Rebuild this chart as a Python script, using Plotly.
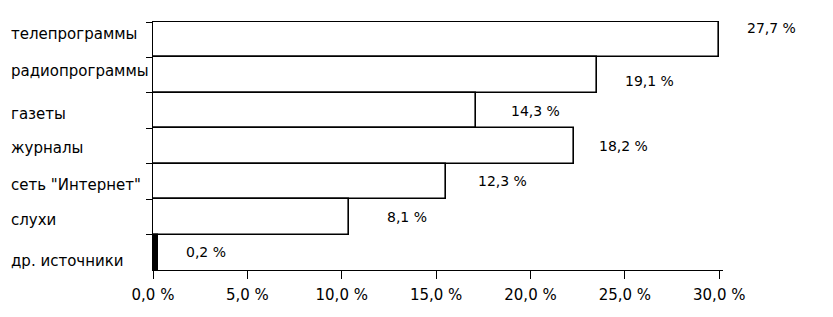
import plotly.graph_objects as go

categories = ["телепрограммы", "радиопрограммы", "газеты", "журналы",
              "сеть \"Интернет\"", "слухи", "др. источники"]
# bar lengths as drawn in the picture (percent on the x axis)
bar_values = [30.0, 23.5, 17.1, 22.3, 15.5, 10.4, 0.25]
# printed value labels
value_labels = ["27,7 %", "19,1 %", "14,3 %", "18,2 %", "12,3 %", "8,1 %", "0,2 %"]
tick_values = [0, 5, 10, 15, 20, 25, 30]
tick_labels = ["0,0 %", "5,0 %", "10,0 %", "15,0 %", "20,0 %", "25,0 %", "30,0 %"]

FONT = "DejaVu Sans"
fill_colors = ["white"] * (len(categories) - 1) + ["black"]

fig = go.Figure()
fig.add_trace(go.Bar(
    x=bar_values, y=categories, orientation="h",
    marker=dict(color=fill_colors, line=dict(color="black", width=1.6)),
    hoverinfo="skip",
))

label_xshift = [26, 26, 33, 23, 30, 36, 26]
label_yshift = [12, -6, 0, 0, 0, 0, 0]
for v, c, t, xs, ys in zip(bar_values, categories, value_labels, label_xshift, label_yshift):
    fig.add_annotation(x=v, y=c, xref="x", yref="y", text=t, showarrow=False,
                       xanchor="left", xshift=xs, yshift=ys,
                       font=dict(family=FONT, size=14, color="black"))

cat_yshift = [6, 4, -3, -2, -4, -3, -9]
for c, ys in zip(categories, cat_yshift):
    fig.add_annotation(x=-0.2525, y=c, xref="paper", yref="y", text=c, showarrow=False,
                       xanchor="left", yshift=ys,
                       font=dict(family=FONT, size=15, color="black"))

fig.update_layout(
    width=825, height=309,
    margin=dict(l=145, r=110, t=13, b=47),
    paper_bgcolor="white", plot_bgcolor="white",
    bargap=0, showlegend=False,
    font=dict(family=FONT, size=14, color="black"),
    xaxis=dict(range=[0, 30.2], tickvals=tick_values, ticktext=tick_labels,
               showgrid=False, zeroline=False, showline=True, linecolor="black",
               linewidth=1, ticks="outside", ticklen=8, tickcolor="black",
               ticklabelstandoff=3, tickfont=dict(family=FONT, size=15)),
    yaxis=dict(range=[6.5, -0.53], showgrid=False, zeroline=False,
               showline=True, linecolor="black", linewidth=1,
               ticks="outside", tickson="boundaries", ticklen=6, tickcolor="black",
               showticklabels=False),
)

fig.write_html("out.html")
